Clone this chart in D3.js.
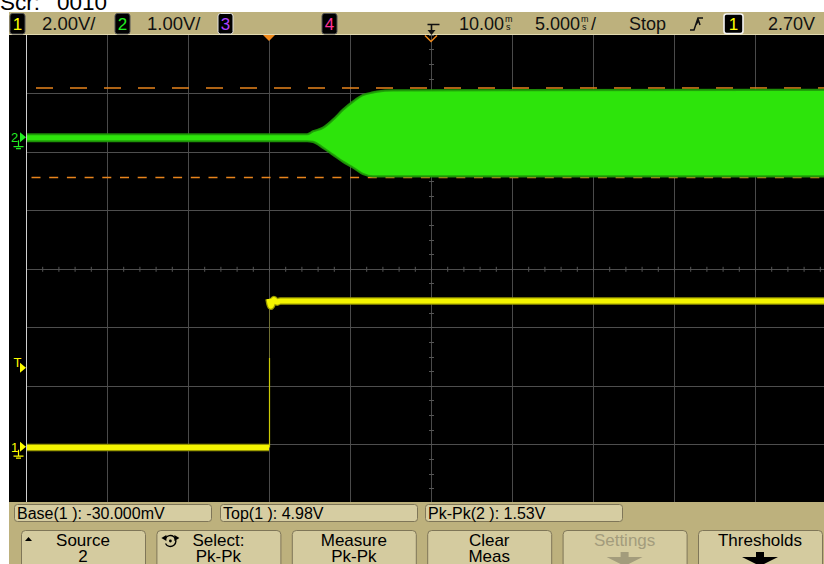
<!DOCTYPE html>
<html>
<head>
<meta charset="utf-8">
<script src="https://cdn.jsdelivr.net/npm/d3@7"></script>
<style>
  html, body { margin: 0; padding: 0; background: #fff; }
  svg { display: block; font-family: "Liberation Sans", Arial, sans-serif; }
</style>
</head>
<body>
<svg id="scope" width="824" height="564"></svg>
<script>
// ---------------- data ----------------
// header: channel badges and their V/div settings
const channelIds    = ["1", "2", "3", "4"];
const channelVdiv   = ["2.00V/", "1.00V/", "", ""];
const channelColors = ["#ffff00", "#22ee22", "#b040ff", "#ff3399"];
// horizontal: delay, time/div, run state, trigger source and level
const timeDelayMs   = 10.0;
const timePerDivMs  = 5.0;
const runState      = "Stop";
const triggerSource = "1";
const triggerLevelV = 2.70;

// channel 1 (yellow): 2 V/div, step at t = 0
const ch1VoltsPerDiv = 2.0;
const ch1OffsetV     = 6.08;          // volts at screen centre
const ch1LowTime     = [-15, 0];
const ch1LowVolts    = [-0.03, -0.03];
const ch1HighTime    = [0, 0.12, 0.30, 0.50, 0.70, 35];
const ch1HighVolts   = [5.05, 4.80, 5.03, 4.94, 4.98, 4.98];
const ch1EdgeBright  = 3.03;          // upper end of the visible part of the edge

// channel 2 (green): 1 V/div, oscillation envelope
const ch2VoltsPerDiv = 1.0;
const ch2OffsetV     = -2.25;
const ch2Time   = [-15, 2.35, 2.72, 3.33, 3.95, 4.57, 5.19, 5.80, 6.42, 6.67, 7.65, 35];
const ch2Top    = [0.05, 0.05, 0.10, 0.16, 0.30, 0.47, 0.61, 0.72, 0.765, 0.78, 0.80, 0.81];
const ch2Bottom = [-0.07, -0.07, -0.08, -0.18, -0.30, -0.42, -0.52, -0.63, -0.67, -0.67, -0.67, -0.67];
const ch2MaxV   = 0.84;
const ch2MinV   = -0.69;

// measurements and softkeys
const measLabels  = ["Base(1 ): -30.000mV", "Top(1 ): 4.98V", "Pk-Pk(2 ): 1.53V"];
const keyLine1    = ["Source", "Select:", "Measure", "Clear", "Settings", "Thresholds"];
const keyLine2    = ["2", "Pk-Pk", "Pk-Pk", "Meas", "", ""];
const keyEnabled  = [true, true, true, true, false, true];

// ---------------- layout ----------------
const svg = d3.select("#scope");
const W = 824, H = 564;
const tan = "#bdb17d";
const screen = { x0: 9, x1: 824, y0: 35, y1: 502 };

// graticule: 10 x 8 divisions
const xDiv = d3.scaleLinear().domain([-5, 5]).range([26, 836]);
const yDiv = d3.scaleLinear().domain([-4, 4]).range([502.8, 34.8]);

// time and channel scales
const xT = d3.scaleLinear()
  .domain([timeDelayMs - 5 * timePerDivMs, timeDelayMs + 5 * timePerDivMs])
  .range(xDiv.range());
const y1 = d3.scaleLinear()
  .domain([ch1OffsetV - 4 * ch1VoltsPerDiv, ch1OffsetV + 4 * ch1VoltsPerDiv])
  .range(yDiv.range());
const y2 = d3.scaleLinear()
  .domain([ch2OffsetV - 4 * ch2VoltsPerDiv, ch2OffsetV + 4 * ch2VoltsPerDiv])
  .range(yDiv.range());

// white page
svg.append("rect").attr("width", W).attr("height", H).attr("fill", "#fff");

// file caption (top, partly outside the frame)
svg.append("text").attr("x", 0).attr("y", 10)
  .attr("font-size", 22.5).attr("fill", "#000")
  .text("Scr:")
  .append("tspan").attr("x", 57).text("0010");

// header bar
svg.append("rect").attr("x", 9).attr("y", 12).attr("width", W - 9).attr("height", 23).attr("fill", tan);
svg.append("line").attr("x1", 9).attr("x2", W).attr("y1", 34.5).attr("y2", 34.5)
  .attr("stroke", "#e2dab0").attr("stroke-width", 1);

// screen
svg.append("rect").attr("x", screen.x0).attr("y", screen.y0)
  .attr("width", screen.x1 - screen.x0).attr("height", screen.y1 - screen.y0).attr("fill", "#000");

const plot = svg.append("g");
plot.append("clipPath").attr("id", "clipScreen")
  .append("rect").attr("x", 26).attr("y", screen.y0)
  .attr("width", screen.x1 - 26).attr("height", screen.y1 - screen.y0);

// grid lines
const grid = plot.append("g").attr("clip-path", "url(#clipScreen)");
grid.selectAll(".gv").data(d3.range(-4, 6)).join("line")
  .attr("x1", d => xDiv(d) + 0.5).attr("x2", d => xDiv(d) + 0.5)
  .attr("y1", screen.y0).attr("y2", screen.y1)
  .attr("stroke", "#4a4a4a").attr("stroke-width", 1);
grid.selectAll(".gh").data(d3.range(-3, 4)).join("line")
  .attr("x1", 26).attr("x2", screen.x1)
  .attr("y1", d => Math.round(yDiv(d)) + 0.5).attr("y2", d => Math.round(yDiv(d)) + 0.5)
  .attr("stroke", "#4e4e4e").attr("stroke-width", 1);
// minor ticks on the centre axes
grid.selectAll(".tx").data(d3.range(-5, 5.01, 0.2)).join("line")
  .attr("x1", d => xDiv(d) + 0.5).attr("x2", d => xDiv(d) + 0.5)
  .attr("y1", yDiv(0) - 2).attr("y2", yDiv(0) + 3)
  .attr("stroke", "#555").attr("stroke-width", 1);
grid.selectAll(".ty").data(d3.range(-4, 4.01, 0.25)).join("line")
  .attr("x1", xDiv(0) - 2).attr("x2", xDiv(0) + 3)
  .attr("y1", d => Math.round(yDiv(d)) + 0.5).attr("y2", d => Math.round(yDiv(d)) + 0.5)
  .attr("stroke", "#555").attr("stroke-width", 1);
// left border of the graticule
svg.append("line").attr("x1", 26.5).attr("x2", 26.5).attr("y1", screen.y0).attr("y2", screen.y1)
  .attr("stroke", "#cfcfcf").attr("stroke-width", 1);

const traces = plot.append("g").attr("clip-path", "url(#clipScreen)");

// channel 2 pk-pk markers (orange dashed)
traces.append("line")
  .attr("x1", 36).attr("x2", screen.x1)
  .attr("y1", y2(ch2MaxV)).attr("y2", y2(ch2MaxV))
  .attr("stroke", "#e8841c").attr("stroke-width", 1.5).attr("stroke-dasharray", "17,17");
traces.append("line")
  .attr("x1", 31.5).attr("x2", screen.x1)
  .attr("y1", y2(ch2MinV)).attr("y2", y2(ch2MinV))
  .attr("stroke", "#e8841c").attr("stroke-width", 1.5).attr("stroke-dasharray", "9,8.7");

// channel 2 envelope
const ch2Rows = ch2Time.map((t, i) => ({ t, hi: ch2Top[i], lo: ch2Bottom[i] }));
const envArea = d3.area().curve(d3.curveMonotoneX)
  .x(d => xT(d.t)).y0(d => y2(d.lo)).y1(d => y2(d.hi));
const envTop = d3.line().curve(d3.curveMonotoneX).x(d => xT(d.t)).y(d => y2(d.hi));
const envBot = d3.line().curve(d3.curveMonotoneX).x(d => xT(d.t)).y(d => y2(d.lo));
traces.append("path").datum(ch2Rows).attr("d", envArea)
  .attr("fill", "#2de40b");
[envTop, envBot].forEach(gen => {
  traces.append("path").datum(ch2Rows).attr("d", gen)
    .attr("fill", "none").attr("stroke", "#1f9a08").attr("stroke-width", 2.2)
    .attr("stroke-opacity", 0.9);
});

// channel 1 step
const ch1Low  = ch1LowTime.map((t, i) => ({ t, v: ch1LowVolts[i] }));
const ch1High = ch1HighTime.map((t, i) => ({ t, v: ch1HighVolts[i] }));
const l1 = d3.line().x(d => xT(d.t)).y(d => y1(d.v));
const l1c = d3.line().curve(d3.curveMonotoneX).x(d => xT(d.t)).y(d => y1(d.v));
// faint part of the edge
traces.append("line")
  .attr("x1", xT(0) + 0.5).attr("x2", xT(0) + 0.5)
  .attr("y1", y1(ch1EdgeBright)).attr("y2", y1(ch1HighVolts[0]))
  .attr("stroke", "#c8c800").attr("stroke-width", 1).attr("stroke-opacity", 0.3);
traces.append("line")
  .attr("x1", xT(0) + 0.5).attr("x2", xT(0) + 0.5)
  .attr("y1", y1(ch1LowVolts[1])).attr("y2", y1(ch1EdgeBright))
  .attr("stroke", "#d8d800").attr("stroke-width", 1.2).attr("stroke-opacity", 0.9);
[[ch1Low, l1], [ch1High, l1c]].forEach(([rows, gen]) => {
  traces.append("path").datum(rows).attr("d", gen)
    .attr("fill", "none").attr("stroke", "#9a9a00").attr("stroke-width", 7.5);
  traces.append("path").datum(rows).attr("d", gen)
    .attr("fill", "none").attr("stroke", "#f4f400").attr("stroke-width", 5);
});

// ---------------- left-edge markers ----------------
function groundMarker(label, y, color, withGround) {
  const g = svg.append("g");
  g.append("text").attr("x", label === "T" ? 13.5 : 11).attr("y", y + (label === "T" ? -1 : 5))
    .attr("font-size", 13).attr("fill", color).text(label);
  g.append("path")
    .attr("d", `M20,${y - 5}L26,${y}L20,${y + 5}Z`).attr("fill", color);
  if (withGround) {
    g.append("path")
      .attr("d", `M18.5,${y + 3}V${y + 9.5}M13.5,${y + 9.5}H23.5M16,${y + 11.5}H21`)
      .attr("stroke", color).attr("stroke-width", 1.2).attr("fill", "none");
  }
}
groundMarker("2", y2(0), "#22ee22", true);
groundMarker("1", y1(0), "#ffff00", true);
groundMarker("T", y1(triggerLevelV), "#ffff00", false);

// trigger position marker (t = 0) and delay reference (screen centre)
svg.append("path")
  .attr("d", `M${xT(0) - 6},35L${xT(0) + 6},35L${xT(0)},41Z`).attr("fill", "#f08a1c");
svg.append("path")
  .attr("d", `M${xT(timeDelayMs) - 6},35.5L${xT(timeDelayMs)},41.5L${xT(timeDelayMs) + 6},35.5`)
  .attr("fill", "none").attr("stroke", "#f08a1c").attr("stroke-width", 1.5);

// ---------------- header contents ----------------
function badge(x, y, w, h, label, color, border, bw) {
  svg.append("rect").attr("x", x).attr("y", y).attr("width", w).attr("height", h)
    .attr("rx", 2.5).attr("fill", "#000").attr("stroke", border).attr("stroke-width", bw);
  svg.append("text").attr("x", x + w / 2).attr("y", y + h / 2 + 6)
    .attr("text-anchor", "middle").attr("font-size", 17).attr("fill", color).text(label);
}
const badgeX = [10, 115, 218, 322];
const vdivX  = [42, 147];
channelIds.forEach((id, i) => {
  badge(badgeX[i], 13.5, 15, 20.5, id, channelColors[i], i === 2 ? "#e6e6e6" : "#555", 1);
  if (channelVdiv[i]) {
    svg.append("text").attr("x", vdivX[i]).attr("y", 30).attr("font-size", 18.5)
      .attr("fill", "#111").text(channelVdiv[i]);
  }
});

// delay reference symbol
svg.append("path").attr("d", "M427.5,24.5H439.5M431.5,24.5V32")
  .attr("stroke", "#111").attr("stroke-width", 1.6).attr("fill", "none");
svg.append("path").attr("d", "M427.5,30L435.5,30L431.5,35Z").attr("fill", "#111");

// time readouts with stacked "ms" units
function timeReadout(x, value, suffix) {
  const t = svg.append("text").attr("x", x).attr("y", 30).attr("font-size", 18).attr("fill", "#111");
  t.text(value);
  const w = t.node().getComputedTextLength();
  svg.append("text").attr("x", x + w + 1).attr("y", 22).attr("font-size", 9).attr("fill", "#111").text("m");
  svg.append("text").attr("x", x + w + 2).attr("y", 30).attr("font-size", 9).attr("fill", "#111").text("s");
  if (suffix) svg.append("text").attr("x", x + w + 11).attr("y", 30).attr("font-size", 18)
    .attr("fill", "#111").text(suffix);
}
timeReadout(459, d3.format(".2f")(timeDelayMs), "");
timeReadout(535, d3.format(".3f")(timePerDivMs), "/");
svg.append("text").attr("x", 629).attr("y", 30).attr("font-size", 18).attr("fill", "#111").text(runState);

// slope icon
svg.append("path").attr("d", "M690,30H694L698,18H703M696,24.5L698.5,20.5L700,25")
  .attr("stroke", "#111").attr("stroke-width", 1.5).attr("fill", "none");
badge(724, 14, 19, 19.5, triggerSource, "#ffff00", "#f4f4f4", 1.6);
svg.append("text").attr("x", 768).attr("y", 30).attr("font-size", 18).attr("fill", "#111")
  .text(d3.format(".2f")(triggerLevelV) + "V");

// ---------------- measurement and softkey area ----------------
svg.append("rect").attr("x", 9).attr("y", 502).attr("width", W - 9).attr("height", H - 502).attr("fill", tan);
const measX = [14, 220, 425];
measLabels.forEach((s, i) => {
  svg.append("rect").attr("x", measX[i] + 0.5).attr("y", 504.5).attr("width", 197).attr("height", 17)
    .attr("rx", 3).attr("fill", "#d6cda2").attr("stroke", "#7f7658").attr("stroke-width", 1);
  svg.append("text").attr("x", measX[i] + 3).attr("y", 519).attr("font-size", 16)
    .attr("fill", "#000").text(s);
});

const keyX = d3.range(6).map(i => 21 + i * 135.4);
keyLine1.forEach((s, i) => {
  const x = keyX[i], cx = x + 62;
  const col = keyEnabled[i] ? "#000" : "#a39c7c";
  svg.append("rect").attr("x", x + 0.5).attr("y", 530.5).attr("width", 124).attr("height", 40)
    .attr("rx", 4).attr("fill", "#d4cb9f").attr("stroke", "#7f7658").attr("stroke-width", 1);
  svg.append("text").attr("x", cx).attr("y", 546).attr("text-anchor", "middle")
    .attr("font-size", 17).attr("fill", col).text(s);
  if (keyLine2[i]) {
    svg.append("text").attr("x", cx).attr("y", 562).attr("text-anchor", "middle")
      .attr("font-size", 17).attr("fill", col).text(keyLine2[i]);
  }
  if (!keyLine2[i]) {
    // down arrow under the label
    svg.append("path")
      .attr("d", `M${cx - 4},552H${cx + 4}V557H${cx + 18}L${cx},566L${cx - 18},557H${cx - 4}Z`)
      .attr("fill", col);
  }
});
// small up-arrow on the Source key
svg.append("path").attr("d", `M${keyX[0] + 4},541L${keyX[0] + 11},541L${keyX[0] + 7.5},537Z`).attr("fill", "#000");
// rotate icon on the Select key
const rx = keyX[1] + 14, ry = 541;
svg.append("path").attr("d", d3.arc()({ innerRadius: 5.5, outerRadius: 5.5, startAngle: -Math.PI * 0.35, endAngle: Math.PI * 1.35 }))
  .attr("transform", `translate(${rx},${ry})`).attr("fill", "none").attr("stroke", "#000").attr("stroke-width", 1.4);
svg.append("circle").attr("cx", rx).attr("cy", ry).attr("r", 1.4).attr("fill", "#000");
svg.append("path").attr("d", `M${rx - 9},${ry - 3}L${rx - 4},${ry - 6}L${rx - 4},${ry}Z`).attr("fill", "#000");
svg.append("path").attr("d", `M${rx + 9},${ry - 3}L${rx + 4},${ry - 6}L${rx + 4},${ry}Z`).attr("fill", "#000");
</script>
</body>
</html>
